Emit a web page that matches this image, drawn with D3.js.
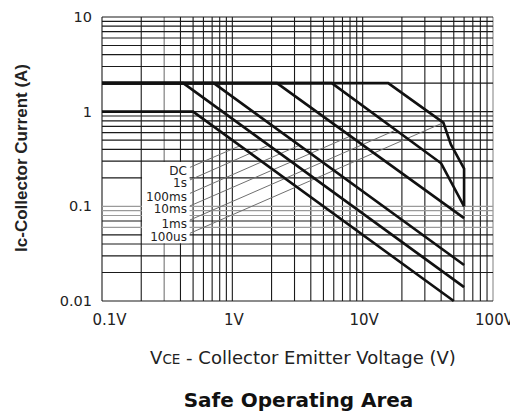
<!DOCTYPE html>
<html>
<head>
<meta charset="utf-8">
<script src="https://cdn.jsdelivr.net/npm/d3@7"></script>
<style>
html,body{margin:0;padding:0;background:#fff;}
svg{display:block;}
</style>
</head>
<body>
<svg id="chart" width="510" height="417"></svg>
<script>
// ---- data ----
const xTickValues = [0.1, 1, 10, 100];
const xTickLabels = ["0.1V", "1V", "10V", "100V"];
const yTickValues = [10, 1, 0.1, 0.01];
const yTickLabels = ["10", "1", "0.1", "0.01"];

const curveDC    = [[0.1,1],[0.5,1],[50,0.01]];
const curve1s    = [[0.1,2],[0.42,2],[60,0.014]];
const curve100ms = [[0.1,2],[0.72,2],[60,0.024]];
const curve10ms  = [[0.1,2],[2.2,2],[60,0.075]];
const curve1ms   = [[0.1,2],[5.8,2],[40,0.285],[60,0.1]];
const curve100us = [[0.1,2],[15.7,2],[41.6,0.765],[47.5,0.45],[60,0.25],[60,0.1]];

const seriesNames = ["DC","1s","100ms","10ms","1ms","100us"];
// leader line: from label anchor [V,I] to a point on the curve [V,I]
const leaderStart = [[0.473,0.258],[0.473,0.190],[0.473,0.137],[0.473,0.101],[0.473,0.0717],[0.473,0.0519]];
const leaderEnd   = [[1.147,0.437],[1.88,0.44],[3.25,0.44],[8.0,0.55],[18,0.64],[41.6,0.765]];

const grayVLines = [0.3];
const grayHLines = [0.1, 0.09, 0.08, 0.06];

// ---- drawing ----
const svg = d3.select("#chart");
const x = d3.scaleLog().domain([0.1,100]).range([102,493]);
const y = d3.scaleLog().domain([0.01,10]).range([301,17]);

const gridV = [], gridH = [];
for (let k=-1;k<=1;k++) for (let m=1;m<=9;m++) gridV.push(+(m*Math.pow(10,k)).toPrecision(3));
gridV.push(100);
for (let k=-2;k<=0;k++) for (let m=1;m<=9;m++) gridH.push(+(m*Math.pow(10,k)).toPrecision(3));
gridH.push(10);

const isGray = (arr,v)=>arr.some(a=>Math.abs(a-v)<1e-9);

const g = svg.append("g");
g.selectAll("line.v").data(gridV).join("line")
  .attr("x1",d=>x(d)).attr("x2",d=>x(d))
  .attr("y1",y(10)).attr("y2",y(0.01))
  .attr("stroke",d=> (isGray(grayVLines,d)||d===100) ? "#8a8a8a" : "#1a1a1a")
  .attr("stroke-width",d=> isGray(grayVLines,d)?1.3:1.1);
g.selectAll("line.h").data(gridH).join("line")
  .attr("y1",d=>y(d)).attr("y2",d=>y(d))
  .attr("x1",x(0.1)).attr("x2",x(100))
  .attr("stroke",d=> isGray(grayHLines,d) ? "#9a9a9a" : "#1a1a1a")
  .attr("stroke-width",1.1);

// white box behind labels
svg.append("rect")
  .attr("x",x(0.2)+0.8).attr("y",y(0.3)+0.8)
  .attr("width",x(0.47)-x(0.2)-0.8).attr("height",y(0.04)-y(0.3)-1.6)
  .attr("fill","#fff");

// leader lines
svg.append("g").selectAll("line").data(seriesNames).join("line")
  .attr("x1",(d,i)=>x(leaderStart[i][0])).attr("y1",(d,i)=>y(leaderStart[i][1]))
  .attr("x2",(d,i)=>x(leaderEnd[i][0])).attr("y2",(d,i)=>y(leaderEnd[i][1]))
  .attr("stroke","#707070").attr("stroke-width",1);

// labels
svg.append("g").selectAll("text").data(seriesNames).join("text")
  .attr("x",(d,i)=>x(leaderStart[i][0])-3)
  .attr("y",(d,i)=>y(leaderStart[i][1])+7.5)
  .attr("text-anchor","end")
  .attr("font-family","DejaVu Sans, sans-serif")
  .attr("font-size",12)
  .attr("fill","#222")
  .text(d=>d);

// curves
const line = d3.line().x(d=>x(d[0])).y(d=>y(d[1]));
const curves = [curveDC,curve1s,curve100ms,curve10ms,curve1ms,curve100us];
svg.append("g").selectAll("path").data(curves).join("path")
  .attr("d",line).attr("fill","none").attr("stroke","#111")
  .attr("stroke-width",2.6).attr("stroke-linejoin","miter");

// axes (labels only)
const xAxis = d3.axisBottom(x).tickValues(xTickValues)
  .tickFormat((d,i)=>xTickLabels[i]).tickSize(0).tickPadding(0);
const gx = svg.append("g").attr("transform","translate(0,301)").call(xAxis);
gx.select(".domain").remove();
gx.selectAll("text").attr("font-family","DejaVu Sans, sans-serif")
  .attr("font-size",15).attr("fill","#222").attr("dy",null).attr("y",24)
  .attr("dx",(d,i)=> i===0 ? 7 : 1);

const yAxis = d3.axisLeft(y).tickValues(yTickValues)
  .tickFormat((d,i)=>yTickLabels[i]).tickSize(0).tickPadding(10);
const gy = svg.append("g").attr("transform","translate(102,0)").call(yAxis);
gy.select(".domain").remove();
gy.selectAll("text").attr("font-family","DejaVu Sans, sans-serif")
  .attr("font-size",14.5).attr("fill","#222");

// axis titles
const xt = svg.append("text").attr("x",303).attr("y",364)
  .attr("text-anchor","middle").attr("font-family","DejaVu Sans, sans-serif")
  .attr("font-size",18).attr("fill","#222");
xt.append("tspan").text("V");
xt.append("tspan").attr("font-size",13.5).text("CE");
xt.append("tspan").text(" - Collector Emitter Voltage (V)");

const yt = svg.append("text")
  .attr("transform","translate(26.5,158) rotate(-90)")
  .attr("text-anchor","middle").attr("font-family","Liberation Sans, Arial, sans-serif")
  .attr("font-weight","bold").attr("font-size",17).attr("fill","#222");
yt.append("tspan").text("I");
yt.append("tspan").text("c");
yt.append("tspan").text("-Collector Current (A)");

svg.append("text").attr("x",298.5).attr("y",407)
  .attr("text-anchor","middle").attr("font-family","DejaVu Sans, sans-serif")
  .attr("font-weight","bold").attr("font-size",20).attr("fill","#111")
  .text("Safe Operating Area");
</script>
</body>
</html>
